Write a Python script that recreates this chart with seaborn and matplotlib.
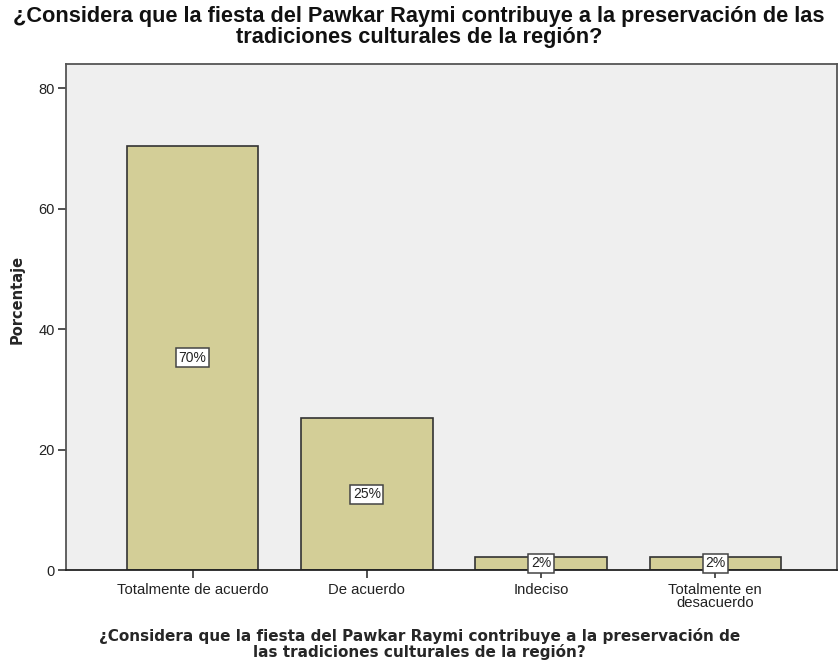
import matplotlib
matplotlib.use('Agg')
import matplotlib.pyplot as plt
import seaborn as sns
import pandas as pd

categorias = ['Totalmente de acuerdo', 'De acuerdo', 'Indeciso', 'Totalmente en\ndesacuerdo']
porcentajes = [70.4, 25.2, 2.2, 2.2]
etiquetas = ['70%', '25%', '2%', '2%']

titulo = '¿Considera que la fiesta del Pawkar Raymi contribuye a la preservación de las\ntradiciones culturales de la región?'
titulo_x = '¿Considera que la fiesta del Pawkar Raymi contribuye a la preservación de\nlas tradiciones culturales de la región?'

df = pd.DataFrame({'categoria': categorias, 'porcentaje': porcentajes})

sns.set_style('white')
plt.rcParams['font.family'] = ['Liberation Sans', 'DejaVu Sans']

fig = plt.figure(figsize=(8.38, 6.66), dpi=100)
ax = fig.add_axes([0.079, 0.144, 0.92, 0.760])
ax.set_facecolor('#EFEFEF')

sns.barplot(data=df, x='categoria', y='porcentaje', color='#D3CE97', width=0.754,
            edgecolor='#333333', linewidth=1.2, saturation=1, ax=ax)

# etiquetas en cajas a media altura de cada barra
for i, (v, t) in enumerate(zip(porcentajes, etiquetas)):
    ax.text(i, v / 2, t, ha='center', va='center', fontsize=10, color='#222222',
            bbox=dict(boxstyle='square,pad=0.18', facecolor='white', edgecolor='#444444', linewidth=1.1))

ax.set_ylim(0, 84)
ax.set_xlim(-0.726, 3.7)
ax.set_yticks([0, 20, 40, 60, 80])

for s in ['left', 'bottom', 'top', 'right']:
    ax.spines[s].set_color('#555555')
    ax.spines[s].set_linewidth(1.3)
ax.spines['bottom'].set_color('#222222')

ax.tick_params(axis='both', which='both', direction='out', length=6, width=1.2,
               color='#333333', labelsize=10.7, labelcolor='#222222', pad=3, left=True, bottom=True)
ax.tick_params(axis='y', labelsize=10.5, pad=2)
for lbl in ax.get_xticklabels():
    lbl.set_linespacing(0.95)

ax.set_ylabel('Porcentaje', fontsize=10.5, fontweight='bold', family='DejaVu Sans',
              va='center', ha='center')
ax.yaxis.set_label_coords(-0.0636, 0.534)
ax.set_xlabel(titulo_x, fontsize=11, fontweight='bold', family='DejaVu Sans',
              linespacing=1.06, va='center', ha='center')
ax.xaxis.set_label_coords(0.458, -0.146)
fig.text(0.5, 1 - 6 / 666, titulo, ha='center', va='top', fontsize=15.7,
         fontweight='bold', linespacing=0.98, color='#111111')

plt.savefig('out.png', dpi=100)
